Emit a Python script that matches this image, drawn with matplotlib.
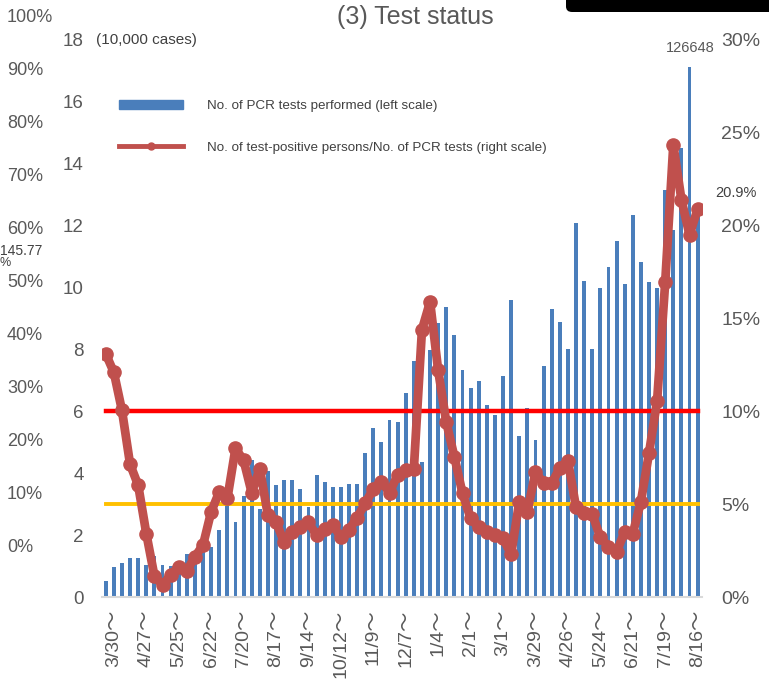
import matplotlib
matplotlib.use('Agg')
import matplotlib.pyplot as plt
from matplotlib.lines import Line2D
from matplotlib.patches import Patch, FancyBboxPatch

# weekly data, 3/23 (2020) .. 8/16 (2021)
pcr_tests = [0.53, 0.96, 1.10, 1.25, 1.25, 1.03, 1.32, 1.03, 1.00, 1.17,
             1.39, 1.39, 1.62, 1.62, 2.18, 2.97, 2.41, 3.27, 4.44, 2.84,
             4.06, 3.63, 3.77, 3.77, 3.48, 2.91, 3.93, 3.71, 3.56, 3.56,
             3.65, 3.65, 4.65, 5.45, 5.00, 5.73, 5.65, 6.60, 7.62, 4.37,
             7.99, 8.85, 9.36, 8.47, 7.32, 6.75, 6.97, 6.19, 5.89, 7.13,
             9.60, 5.21, 6.10, 5.07, 7.48, 9.31, 8.89, 8.00, 12.10, 10.20,
             8.00, 9.99, 10.65, 11.50, 10.13, 12.35, 10.83, 10.17, 9.97, 13.15,
             11.85, 14.52, 17.13, 12.66]

positive_rate = [13.1, 12.1, 10.05, 7.15, 6.02, 3.42, 1.13, 0.65, 1.18, 1.63,
                 1.41, 2.17, 2.8, 4.59, 5.66, 5.31, 8.0, 7.37, 5.62, 6.92,
                 4.4, 4.05, 2.95, 3.51, 3.78, 4.02, 3.33, 3.66, 3.9, 3.22,
                 3.62, 4.27, 5.04, 5.82, 6.22, 5.62, 6.58, 6.83, 6.92, 14.4,
                 15.9, 12.2, 9.42, 7.54, 5.58, 4.23, 3.75, 3.51, 3.33, 3.16,
                 2.3, 5.13, 4.59, 6.74, 6.13, 6.13, 6.94, 7.34, 4.83, 4.52,
                 4.46, 3.22, 2.71, 2.41, 3.52, 3.41, 5.13, 7.74, 10.56, 16.95,
                 24.35, 21.4, 19.5, 20.9]

tick_labels = ['3/30', '4/27', '5/25', '6/22', '7/20', '8/17', '9/14', '10/12',
               '11/9', '12/7', '1/4', '2/1', '3/1', '3/29', '4/26', '5/24',
               '6/21', '7/19', '8/16']

threshold_high = 10
threshold_low = 5

left_ticks = [0, 2, 4, 6, 8, 10, 12, 14, 16, 18]
right_ticks = [0, 5, 10, 15, 20, 25, 30]
ghost_pcts = [0, 10, 20, 30, 40, 50, 60, 70, 80, 90, 100]

labels = ['No. of PCR tests performed (left scale)',
          'No. of test-positive persons/No. of PCR tests (right scale)']

W, H = 769, 685
GRAY = '#595959'
FONT = ['Liberation Sans', 'Noto Sans CJK JP', 'DejaVu Sans']
plt.rcParams['font.family'] = FONT


def px(x, y):
    return x / W, 1 - y / H


fig = plt.figure(figsize=(W / 100, H / 100), dpi=100)
ax = fig.add_axes([101.7 / W, (H - 597) / H, 600 / W, 557 / H])

idx = list(range(len(pcr_tests)))
ax.bar(idx, pcr_tests, width=0.48, color='#4a7ebb', zorder=2)
ax.set_xlim(-0.5, len(idx) - 0.5)
ax.set_ylim(0, 18)
ax.set_yticks(left_ticks)
ax.set_yticklabels([str(t) for t in left_ticks])
ax.set_xticks(idx[1::4])
ax.set_xticklabels([t + '～' for t in tick_labels], rotation=90, va='top', ha='center')
ax.tick_params(axis='x', length=0, pad=9, labelsize=14, labelcolor=GRAY)
ax.tick_params(axis='y', length=0, pad=13, labelsize=13.5, labelcolor=GRAY)
for s in ['top', 'left', 'right']:
    ax.spines[s].set_visible(False)
ax.spines['bottom'].set_color('#d9d9d9')
ax.spines['bottom'].set_linewidth(1.5)

ax2 = ax.twinx()
ax2.set_ylim(0, 30)
ax2.set_yticks(right_ticks)
ax2.set_yticklabels(['%d%%' % t for t in right_ticks])
ax2.tick_params(axis='y', length=0, pad=14, labelsize=14, labelcolor=GRAY)
for s in ax2.spines.values():
    s.set_visible(False)

ax2.plot([0, idx[-1]], [threshold_high] * 2, color='#ff0000', lw=3.2, zorder=2)
ax2.plot([0, idx[-1]], [threshold_low] * 2, color='#ffc000', lw=2.8, zorder=2)
ax2.plot(idx, positive_rate, color='#c0504d', lw=6.3, marker='o', ms=9.5,
         solid_joinstyle='round', solid_capstyle='round', zorder=3)

# value labels of the last week
fig.text(*px(690, 48), '126648', ha='center', va='center', fontsize=10.5, color=GRAY)
fig.text(*px(715, 193), '%.1f%%' % positive_rate[-1], ha='left', va='center', fontsize=10.5, color='#404040')
fig.text(*px(96, 40), '(10,000 cases)', ha='left', va='center', fontsize=11, color='#404040')

# leftover scale of the neighbouring chart
for p in ghost_pcts:
    fig.text(*px(7, 547 - p * 5.29), '%d%%' % p, ha='left', va='center', fontsize=13, color=GRAY)
fig.text(*px(0, 251), '145.77', ha='left', va='center', fontsize=10, color='#404040')
fig.text(*px(0, 263), '%', ha='left', va='center', fontsize=9, color='#404040')

fig.text(*px(415, 17), '(3) Test status', ha='center', va='center', fontsize=18, color=GRAY)

# black box cut at the top right
box = FancyBboxPatch(px(566, 12), 0.5, 0.2, boxstyle='round,pad=0,rounding_size=0.008',
                     transform=fig.transFigure, facecolor='black', edgecolor='none')
fig.patches.append(box)

handles = [Patch(color='#4a7ebb'),
           Line2D([], [], color='#c0504d', lw=3.5, marker='o', ms=5)]
fig.legend(handles, labels, loc='upper left', bbox_to_anchor=px(119, 100),
           frameon=False, fontsize=9.6, handlelength=4.8, handletextpad=1.8,
           labelspacing=2.2, borderpad=0, borderaxespad=0, numpoints=1,
           labelcolor='#404040')

fig.savefig('out.png', dpi=100)
